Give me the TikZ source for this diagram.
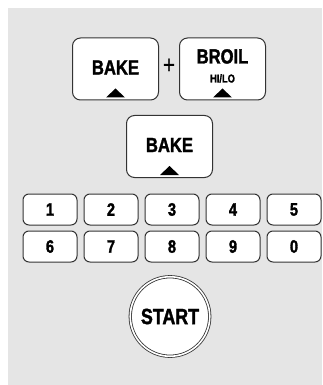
\documentclass[tikz,border=0pt]{standalone}
\usepackage{fontspec}
\usetikzlibrary{shapes,positioning,calc}
\newfontfamily\keyfont[FakeStretch=0.81,FakeBold=1.6]{Liberation Sans}
\definecolor{panel}{gray}{.9}
\definecolor{rim}{gray}{.2}

\begin{document}
\begin{tikzpicture}[x=1pt,y=1pt,% everything measured in points
				every node/.style={
					align=center,
					inner sep=0pt
				},
				bigkey/.style={rectangle,rounded corners=8pt,draw=rim,line width=1pt,fill=white,text depth=3pt,
					minimum width=86pt,minimum height=62pt,font=\keyfont\bfseries\fontsize{20.5}{21}\selectfont},
				numkey/.style={rectangle,rounded corners=6pt,draw=rim,line width=1pt,fill=white,
					minimum width=54pt,minimum height=31pt,font=\keyfont\bfseries\fontsize{18}{19}\selectfont},
				startkey/.style={circle,draw=rim,line width=0.8pt,double=white,double distance=1.6pt,fill=white,
					minimum size=79.5pt,font=\keyfont\bfseries\fontsize{22}{23}\selectfont},
				keytext/.style={font=\keyfont\bfseries\fontsize{20.5}{21}\selectfont},
				subtext/.style={font=\keyfont\bfseries\fontsize{11.5}{12}\selectfont}
			]
			\useasboundingbox (0,0) rectangle (322,-385);
			\fill[panel] (8,-8) rectangle (322,-385);
			% top row: bake + broil
			\node[bigkey](bake1) at (115.5,-69){BAKE};
			\node[bigkey](broil)[right=20pt of bake1]{};
			\node[keytext,anchor=base](broiltxt) at ([yshift=-26pt]broil.north){BROIL};
			\node[subtext,anchor=base](hilo) at ([yshift=-45pt]broil.north){HI/LO};
			\node[font=\keyfont\fontsize{25}{26}\selectfont](plus) at ($(bake1.east)!.5!(broil.west)+(0,3)$){+};
			\node[bigkey](bake2) at (169.5,-146.5){BAKE};
			\fill ([yshift=3pt]bake1.south) ++(-9.5,0) -- ++(19,0) -- ++(-9.5,9) -- cycle;
			\fill ([yshift=3pt]broil.south) ++(-9.5,0) -- ++(19,0) -- ++(-9.5,9) -- cycle;
			\fill ([yshift=3pt]bake2.south) ++(-9.5,0) -- ++(19,0) -- ++(-9.5,9) -- cycle;
			% number pad
			\node[numkey](k1) at (50,-209.5){1};
			\node[numkey](k2)[right=6pt of k1]{2};
			\node[numkey](k3)[right=6pt of k2]{3};
			\node[numkey](k4)[right=6pt of k3]{4};
			\node[numkey](k5)[right=6pt of k4]{5};
			\node[numkey](k6)[below=5pt of k1]{6};
			\node[numkey](k7)[right=6pt of k6]{7};
			\node[numkey](k8)[right=6pt of k7]{8};
			\node[numkey](k9)[right=6pt of k8]{9};
			\node[numkey](k0)[right=6pt of k9]{0};
			% start button
			\node[startkey](start) at (170,-316.5){START};
		\end{tikzpicture}
\end{document}
